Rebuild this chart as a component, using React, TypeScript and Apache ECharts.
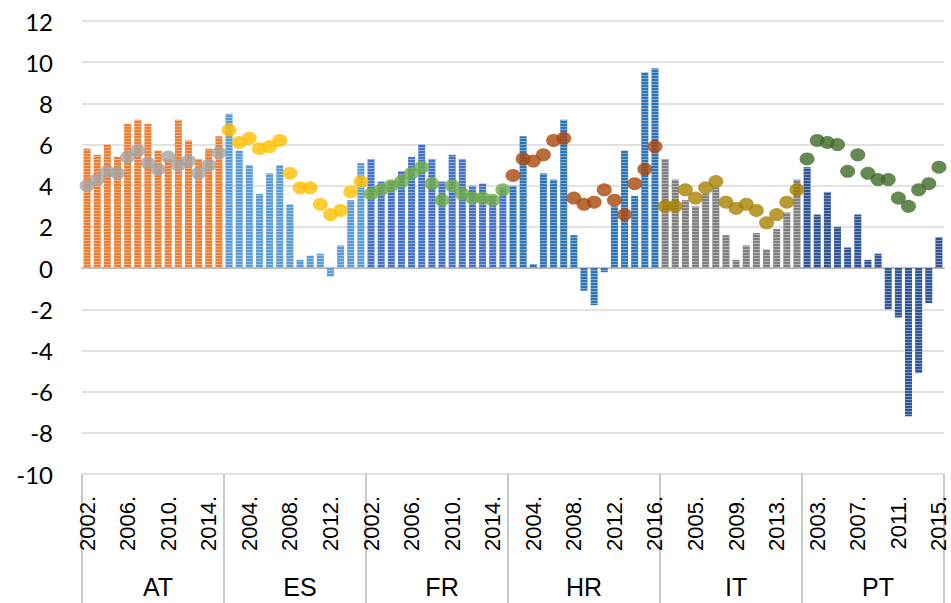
import React, { useEffect, useRef } from 'react';
import * as echarts from 'echarts';

const groups = ['AT', 'ES', 'FR', 'HR', 'IT', 'PT'];
const years14 = ['2002.', '2003.', '2004.', '2005.', '2006.', '2007.', '2008.', '2009.', '2010.', '2011.', '2012.', '2013.', '2014.', '2015.'];
const years15 = [...years14, '2016.'];
const groupYears = [years14, years14, years14, years15, years14, years14];

const barAT = [5.8, 5.5, 6.0, 5.4, 7.0, 7.2, 7.0, 5.7, 5.3, 7.2, 6.2, 5.3, 5.8, 6.4];
const barES = [7.5, 5.7, 5.0, 3.6, 4.6, 5.0, 3.1, 0.4, 0.6, 0.7, -0.4, 1.1, 3.3, 5.1];
const barFR = [5.3, 4.2, 4.2, 4.7, 5.4, 6.0, 5.3, 4.2, 5.5, 5.3, 4.0, 4.1, 3.5, 3.9];
const barHR = [4.0, 6.4, 0.2, 4.6, 4.3, 7.2, 1.6, -1.1, -1.8, -0.2, 3.0, 5.7, 3.5, 9.5, 9.7];
const barIT = [5.3, 4.3, 3.3, 3.0, 3.6, 3.9, 1.6, 0.4, 1.1, 1.7, 0.9, 1.9, 2.7, 4.3];
const barPT = [4.9, 2.6, 3.7, 2.0, 1.0, 2.6, 0.4, 0.7, -2.0, -2.4, -7.2, -5.1, -1.7, 1.5];

const dotAT = [4.0, 4.3, 4.7, 4.6, 5.4, 5.7, 5.1, 4.8, 5.4, 5.0, 5.2, 4.6, 5.0, 5.6];
const dotES = [6.7, 6.1, 6.3, 5.8, 5.9, 6.2, 4.6, 3.9, 3.9, 3.1, 2.6, 2.8, 3.7, 4.2];
const dotFR = [3.6, 3.8, 4.0, 4.2, 4.6, 4.9, 4.1, 3.3, 4.0, 3.6, 3.4, 3.4, 3.3, 3.8];
const dotHR = [4.5, 5.3, 5.2, 5.5, 6.2, 6.3, 3.4, 3.1, 3.2, 3.8, 3.3, 2.6, 4.1, 4.8, 5.9];
const dotIT = [3.0, 3.0, 3.8, 3.4, 3.9, 4.2, 3.2, 2.9, 3.1, 2.8, 2.2, 2.6, 3.2, 3.8];
const dotPT = [5.3, 6.2, 6.1, 6.0, 4.7, 5.5, 4.6, 4.3, 4.3, 3.4, 3.0, 3.8, 4.1, 4.9];

const barGroups = [barAT, barES, barFR, barHR, barIT, barPT];
const dotGroups = [dotAT, dotES, dotFR, dotHR, dotIT, dotPT];

const barColors = ['#ED7D31', '#5B9BD5', '#4472C4', '#2E75B6', '#7F7F7F', '#2F5597'];
const dotColors = ['#A5A5A5', '#FFC000', '#70AD47', '#A9490B', '#A88100', '#3F6B27'];

export default function App() {
  const ref = useRef<HTMLDivElement>(null);
  useEffect(() => {
    if (!ref.current) return;
    const chart = echarts.init(ref.current, null, { renderer: 'svg' });

    const cats: string[] = [];
    const starts: number[] = [];
    const mids: number[] = [];
    const barData: any[] = [];
    const dotData: any[] = [];
    groups.forEach((g, gi) => {
      starts.push(cats.length);
      mids.push(cats.length + Math.floor(groupYears[gi].length / 2));
      groupYears[gi].forEach((y, yi) => {
        cats.push(g + '|' + y);
        barData.push({ value: barGroups[gi][yi], itemStyle: { color: barColors[gi] } });
        dotData.push({ value: dotGroups[gi][yi], itemStyle: { color: dotColors[gi] } });
      });
    });

    const option: any = {
      animation: false,
      backgroundColor: '#fff',
      grid: { left: 82, right: 7, top: 21, bottom: 129, outerBoundsMode: 'none', containLabel: false },
      xAxis: [
        {
          type: 'category',
          data: cats,
          position: 'bottom',
          axisLine: { show: true, onZero: true, lineStyle: { color: '#BFBFBF', width: 2 } },
          axisTick: { show: false },
          axisLabel: { show: false },
          splitLine: { show: false },
        },
        {
          type: 'category',
          data: cats,
          position: 'bottom',
          axisLine: { show: false, onZero: false },
          axisTick: {
            show: true,
            interval: (i: number) => starts.includes(i),
            length: 130,
            lineStyle: { color: '#C8C8C8', width: 2 },
          },
          axisLabel: {
            show: true,
            interval: (i: number) => i % 4 === 0,
            rotate: 90,
            margin: 22,
            padding: [0, 0, 5, 0],
            formatter: (v: string) => v.split('|')[1],
            fontFamily: 'Liberation Sans',
            fontSize: 22,
            color: '#000',
          },
          splitLine: { show: false },
        },
        {
          type: 'category',
          data: cats,
          position: 'bottom',
          axisLine: { show: false, onZero: false },
          axisTick: { show: false },
          axisLabel: {
            show: true,
            interval: (i: number) => mids.includes(i),
            margin: 100,
            formatter: (v: string) => v.split('|')[0],
            fontFamily: 'Liberation Sans',
            fontSize: 25,
            color: '#000',
          },
          splitLine: { show: false },
        },
      ],
      yAxis: {
        type: 'value',
        min: -10,
        max: 12,
        interval: 2,
        axisLine: { show: false },
        axisTick: { show: false },
        axisLabel: { fontFamily: 'Lato', fontSize: 24, color: '#000', margin: 29 },
        splitLine: { lineStyle: { color: '#D9D9D9', width: 1.5 } },
      },
      series: [
        {
          type: 'bar',
          xAxisIndex: 0,
          data: barData,
          barWidth: 7,
          itemStyle: {
            decal: {
              symbol: 'rect',
              symbolSize: 1,
              dashArrayX: [1, 0],
              dashArrayY: [1, 2],
              color: 'rgba(255,255,255,0.4)',
            },
          },
        },
        {
          type: 'scatter',
          xAxisIndex: 0,
          data: dotData,
          symbol: 'circle',
          symbolSize: [15, 13],
          z: 3,
        },
      ],
    };
    chart.setOption(option);
    return () => chart.dispose();
  }, []);
  return <div ref={ref} style={{ position: 'fixed', left: 0, top: 0, width: 951, height: 603 }} />;
}
